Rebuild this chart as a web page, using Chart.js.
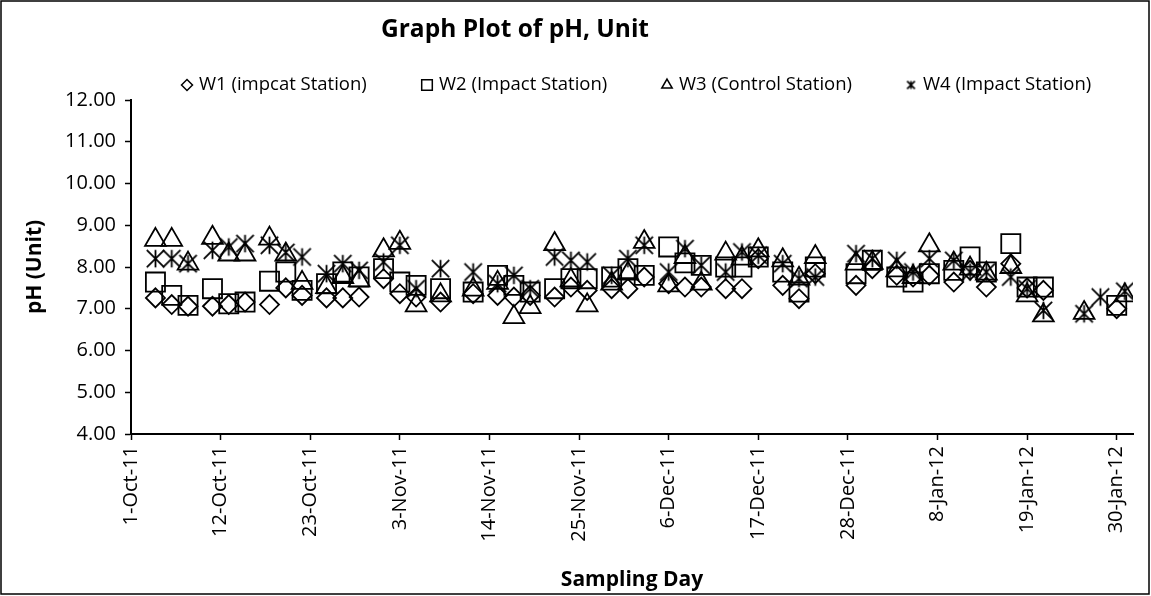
<!DOCTYPE html>
<html lang="en">
<head>
<meta charset="UTF-8">
<script src="https://cdn.jsdelivr.net/npm/chart.js"></script>
<title>Graph Plot of pH, Unit</title>
<style>
    body { margin: 0; background: #fff; }
    #wrap { width: 1151px; height: 596px; }
</style>
</head>
<body>
<div id="wrap"><canvas id="phChart" width="1151" height="596"></canvas></div>
<script>
// sampling days
var sampleDates = [
    '2011-10-04','2011-10-06','2011-10-08','2011-10-11','2011-10-13','2011-10-15','2011-10-18','2011-10-20','2011-10-22','2011-10-25','2011-10-27','2011-10-29',
    '2011-11-01','2011-11-03','2011-11-05','2011-11-08','2011-11-12','2011-11-15','2011-11-17','2011-11-19','2011-11-22','2011-11-24','2011-11-26','2011-11-29',
    '2011-12-01','2011-12-03','2011-12-06','2011-12-08','2011-12-10','2011-12-13','2011-12-15','2011-12-17','2011-12-20','2011-12-22','2011-12-24','2011-12-29','2011-12-31',
    '2012-01-03','2012-01-05','2012-01-07','2012-01-10','2012-01-12','2012-01-14','2012-01-17','2012-01-19','2012-01-21','2012-01-26','2012-01-28','2012-01-30','2012-01-31'
];
var w1 = [
    7.26, 7.10, 7.06, 7.06, 7.10, 7.16, 7.10, 7.50, 7.32, 7.26, 7.26, 7.28,
    7.72, 7.36, 7.28, 7.16, 7.36, 7.32, 7.28, 7.32, 7.28, 7.52, 7.44, 7.48,
    7.48, 7.76, 7.60, 7.52, 7.52, 7.48, 7.48, 8.20, 7.56, 7.24, 7.84, 7.56, 7.96,
    7.80, 7.76, 7.80, 7.64, 7.92, 7.52, 8.08, 7.50, 7.44, null, null, 7.00, null
];
var w2 = [
    7.64, 7.32, 7.08, 7.48, 7.12, 7.16, 7.66, 7.88, 7.44, 7.60, 7.88, 7.76,
    7.96, 7.64, 7.56, 7.48, 7.40, 7.80, 7.56, 7.40, 7.48, 7.72, 7.72, 7.76,
    7.96, 7.80, 8.48, 8.10, 8.04, 8.00, 8.00, 8.24, 7.88, 7.40, 8.00, 7.84, 8.16,
    7.76, 7.64, 7.84, 7.92, 8.24, 7.88, 8.56, 7.52, 7.52, null, null, 7.08, null
];
var w3 = [
    8.65, 8.65, 8.08, 8.70, 8.30, 8.30, 8.68, 8.30, 7.62, 7.52, 7.76, 7.68,
    8.40, 8.58, 7.08, 7.32, 7.46, 7.62, 6.80, 7.04, 8.55, 7.68, 7.08, 7.60,
    7.84, 8.60, 7.56, 8.24, 7.60, 8.32, 8.20, 8.40, 8.16, 7.72, 8.24, 8.08, 8.10,
    7.92, 7.76, 8.52, 8.08, 7.96, 7.84, 8.00, 7.32, 6.84, 6.90, null, null, 7.32
];
var w4 = [
    8.20, 8.20, 8.08, 8.40, 8.48, 8.56, 8.52, 8.35, 8.24, 7.84, 8.08, 7.92,
    8.12, 8.52, 7.48, 7.96, 7.88, 7.60, 7.80, 7.48, 8.24, 8.16, 8.12, 7.80,
    8.20, 8.52, 7.88, 8.44, 8.04, 7.88, 8.36, 8.28, 8.08, 7.72, 7.76, 8.32, 8.20,
    8.16, 7.88, 8.20, 8.16, 7.88, 7.88, 7.76, 7.48, 6.96, 6.88, 7.28, null, 7.42
];
var seriesNames = ['W1 (impcat Station)', 'W2 (Impact Station)', 'W3 (Control Station)', 'W4 (Impact Station)'];
var xTickLabels = ['1-Oct-11','12-Oct-11','23-Oct-11','3-Nov-11','14-Nov-11','25-Nov-11','6-Dec-11','17-Dec-11','28-Dec-11','8-Jan-12','19-Jan-12','30-Jan-12'];
var xAxisEnd = '1-Feb-12';

var FONT = "'Open Sans', sans-serif";
var months = {Jan:0, Feb:1, Mar:2, Apr:3, May:4, Jun:5, Jul:6, Aug:7, Sep:8, Oct:9, Nov:10, Dec:11};
var ORIGIN = Date.UTC(2011, 9, 1);

function isoToDay(s) {
    var p = s.split('-');
    return (Date.UTC(+p[0], +p[1] - 1, +p[2]) - ORIGIN) / 86400000;
}
function labelToDay(s) {
    var p = s.split('-');
    return (Date.UTC(2000 + +p[2], months[p[1]], +p[0]) - ORIGIN) / 86400000;
}
function toPoints(vals) {
    var pts = [];
    for (var i = 0; i < sampleDates.length; i++) {
        if (vals[i] !== null) pts.push({x: isoToDay(sampleDates[i]), y: vals[i]});
    }
    return pts;
}

// excel style asterisk marker (vertical bar + X)
function asterisk(size, lw) {
    var c = document.createElement('canvas');
    c.width = size; c.height = size;
    var g = c.getContext('2d');
    var m = lw, e = size - lw;
    g.strokeStyle = '#000';
    g.lineWidth = lw;
    g.beginPath();
    g.moveTo(size / 2, m); g.lineTo(size / 2, e);
    g.moveTo(m, m); g.lineTo(e, e);
    g.moveTo(e, m); g.lineTo(m, e);
    g.stroke();
    return c;
}

var styles = [
    {pointStyle: 'rectRot', radius: 9.5, legendRadius: 5.5},
    {pointStyle: 'rect', radius: 13.5, legendRadius: 7.5},
    {pointStyle: 'triangle', radius: 12, legendRadius: 6},
    {pointStyle: asterisk(21, 1.8), radius: 10, legendStyle: asterisk(11, 1.6)}
];
var seriesData = [w1, w2, w3, w4];

var datasets = seriesData.map(function (vals, i) {
    return {
        label: seriesNames[i],
        data: toPoints(vals),
        pointStyle: styles[i].pointStyle,
        pointRadius: styles[i].radius,
        pointHoverRadius: styles[i].radius,
        pointBorderWidth: 1.8,
        borderColor: '#000',
        backgroundColor: 'rgba(0,0,0,0)',
        showLine: false
    };
});

// title, legend and outer frame
var framePlugin = {
    id: 'frame',
    beforeDraw: function (chart) {
        var ctx = chart.ctx;
        ctx.save();
        ctx.fillStyle = '#fff';
        ctx.fillRect(0, 0, chart.width, chart.height);
        ctx.restore();
    },
    afterDraw: function (chart) {
        var ctx = chart.ctx;
        ctx.save();
        ctx.strokeStyle = '#000';
        ctx.lineWidth = 1.5;
        ctx.strokeRect(1, 1, chart.width - 3, chart.height - 3);

        ctx.fillStyle = '#000';
        ctx.font = 'bold 24.5px ' + FONT;
        ctx.textAlign = 'center';
        ctx.textBaseline = 'middle';
        ctx.fillText('Graph Plot of pH, Unit', 515, 30);

        var legendX = [187, 427, 667, 911];
        ctx.font = '18.5px ' + FONT;
        ctx.textAlign = 'left';
        for (var i = 0; i < seriesNames.length; i++) {
            ctx.fillStyle = 'rgba(0,0,0,0)';
            ctx.strokeStyle = '#000';
            Chart.helpers.drawPoint(ctx, {
                pointStyle: styles[i].legendStyle || styles[i].pointStyle,
                radius: styles[i].legendRadius || 5,
                borderWidth: 1.6,
                rotation: 0
            }, legendX[i], 85);
            ctx.fillStyle = '#000';
            ctx.fillText(seriesNames[i], legendX[i] + 12, 85);
        }
        ctx.restore();
    }
};

var yTickFont = {family: FONT, size: 20};
var xTickFont = {family: FONT, size: 20};
var titleFont = {family: FONT, size: 21, weight: 'bold'};

new Chart(document.getElementById('phChart'), {
    type: 'scatter',
    data: {datasets: datasets},
    plugins: [framePlugin],
    options: {
        responsive: false,
        animation: false,
        layout: {padding: {top: 100, right: 18, bottom: 0, left: 0}},
        plugins: {
            legend: {display: false},
            title: {display: false},
            tooltip: {enabled: false}
        },
        scales: {
            x: {
                type: 'linear',
                min: 0,
                max: labelToDay(xAxisEnd),
                afterBuildTicks: function (scale) {
                    scale.ticks = xTickLabels.map(function (l) { return {value: labelToDay(l)}; });
                },
                afterFit: function (scale) { scale.height = 162; },
                ticks: {
                    autoSkip: false,
                    maxRotation: 90,
                    minRotation: 90,
                    padding: 6,
                    color: '#000',
                    font: xTickFont,
                    callback: function (v, idx) { return xTickLabels[idx]; }
                },
                grid: {drawOnChartArea: false, drawTicks: true, tickLength: 6, color: '#000', tickWidth: 1.5},
                border: {display: true, color: '#000', width: 2},
                title: {display: true, text: 'Sampling Day', color: '#000', font: titleFont, padding: {top: 0, bottom: 3}}
            },
            y: {
                min: 4,
                max: 12,
                afterFit: function (scale) { scale.width = 131; },
                ticks: {
                    stepSize: 1,
                    padding: 9,
                    color: '#000',
                    font: yTickFont,
                    callback: function (v) { return v.toFixed(2); }
                },
                grid: {drawOnChartArea: false, drawTicks: true, tickLength: 6, color: '#000', tickWidth: 1.5},
                border: {display: true, color: '#000', width: 2},
                title: {display: true, text: 'pH (Unit)', color: '#000', font: titleFont, padding: {top: 22, bottom: 0}}
            }
        }
    }
});
</script>
</body>
</html>
